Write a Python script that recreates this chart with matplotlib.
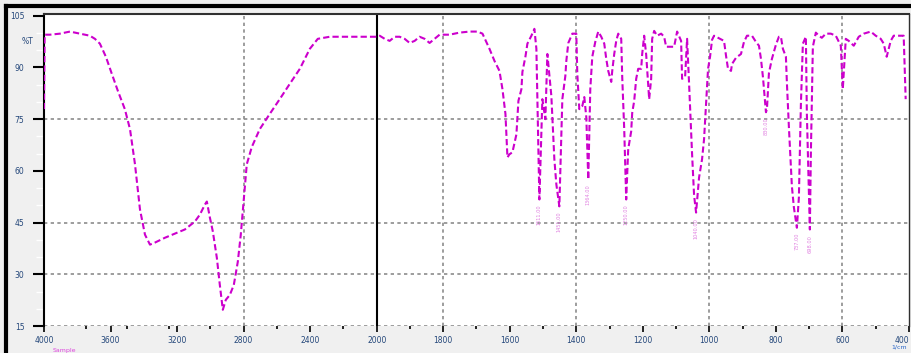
import numpy as np
import matplotlib.pyplot as plt
from matplotlib.ticker import FixedLocator, MultipleLocator

# IR spectrum (wavenumber in 1/cm, transmittance in %T)
wavenumber = [4000, 3996, 3964, 3904, 3844, 3784, 3724, 3694, 3664, 3628, 3592, 3556,
              3514, 3483, 3453, 3423, 3393, 3363, 3333, 3273, 3213, 3153, 3093, 3063,
              3033, 3021, 3003, 2985, 2961, 2943, 2925, 2907, 2883, 2859, 2835, 2817,
              2799, 2781, 2751, 2703, 2643, 2583, 2523, 2462, 2402, 2354, 2282, 2162,
              2000, 1991, 1976, 1961, 1946, 1931, 1916, 1901, 1886, 1871, 1856, 1841,
              1826, 1811, 1781, 1751, 1721, 1697, 1682, 1661, 1646, 1631, 1622, 1613,
              1607, 1601, 1592, 1580, 1574, 1565, 1562, 1553, 1547, 1535, 1526, 1520,
              1511, 1502, 1493, 1487, 1475, 1466, 1460, 1451, 1442, 1433, 1430, 1424,
              1412, 1400, 1397, 1391, 1382, 1376, 1370, 1364, 1358, 1352, 1343, 1334,
              1325, 1316, 1310, 1304, 1295, 1292, 1286, 1280, 1274, 1265, 1262, 1256,
              1250, 1244, 1235, 1232, 1226, 1220, 1214, 1205, 1202, 1196, 1190, 1181,
              1175, 1172, 1166, 1157, 1145, 1136, 1130, 1115, 1106, 1097, 1085, 1082,
              1073, 1067, 1061, 1052, 1046, 1040, 1031, 1022, 1016, 1010, 1004, 998,
              992, 986, 956, 950, 944, 935, 932, 920, 905, 896, 887, 872, 860, 851,
              845, 839, 830, 827, 821, 812, 800, 791, 785, 779, 770, 767, 761, 752,
              746, 737, 731, 725, 719, 710, 707, 698, 695, 689, 680, 671, 662, 650,
              635, 620, 605, 599, 590, 581, 566, 551, 536, 515, 500, 485, 476, 467,
              455, 446, 425, 416, 410]
transmittance = [77.9, 99.5, 99.5, 99.8, 100.4, 99.8, 99.2, 98.3, 96.9, 93.1, 88.1, 83.2,
                 77.9, 72.1, 61.9, 48.8, 41.5, 38.6, 39.2, 40.6, 41.8, 43.0, 45.3, 47.3,
                 50.2, 51.1, 46.5, 42.4, 34.8, 26.9, 19.7, 22.6, 24.0, 26.9, 33.6, 41.5,
                 51.7, 61.9, 66.9, 72.1, 76.5, 80.8, 85.2, 89.6, 95.4, 98.3, 98.9, 98.9,
                 98.9, 99.2, 98.3, 97.7, 98.9, 98.9, 98.3, 97.1, 97.7, 98.9, 98.3, 97.1,
                 98.3, 99.5, 99.5, 100.1, 100.4, 100.4, 99.8, 95.4, 91.9, 89.0, 83.7, 76.5,
                 63.9, 64.8, 65.4, 70.6, 80.3, 83.7, 88.7, 93.1, 96.9, 99.2, 101.2, 95.4,
                 51.7, 80.8, 75.0, 93.9, 81.7, 63.4, 56.1, 49.7, 80.8, 87.5, 91.9, 97.1,
                 99.8, 99.8, 88.1, 77.9, 78.8, 81.4, 75.6, 57.5, 83.7, 93.1, 97.4, 100.4,
                 98.9, 96.9, 92.5, 89.0, 85.8, 89.0, 93.9, 97.7, 99.8, 98.3, 87.2, 72.1,
                 51.7, 66.3, 71.5, 76.8, 80.3, 86.7, 89.6, 89.6, 93.9, 99.2, 93.7, 80.8,
                 86.7, 98.3, 100.6, 99.2, 99.8, 98.9, 96.0, 96.0, 96.0, 100.4, 97.7, 86.7,
                 87.2, 98.3, 85.2, 64.8, 52.9, 47.9, 58.1, 63.4, 69.2, 79.4, 89.6, 93.1,
                 98.0, 99.2, 97.7, 93.4, 89.6, 89.0, 91.0, 92.8, 93.9, 97.4, 99.2, 99.2, 97.4, 96.3,
                 92.5, 87.2, 77.0, 77.9, 88.4, 92.5, 96.6, 98.9, 98.9, 95.4, 93.1, 85.5, 72.7, 55.5,
                 49.4, 43.5, 52.3, 79.1, 96.9, 98.9, 76.5, 43.0, 64.8, 96.0, 100.1, 99.2, 98.6, 99.8,
                 99.8, 99.2, 96.3, 83.7, 98.3, 97.7, 96.3, 98.9, 99.8, 100.4, 99.2, 98.3, 96.9, 93.1,
                 97.7, 99.2, 99.2, 99.2, 80.8]

peak_labels = [1511, 1451, 1364, 1250, 1040, 830, 737, 698]
peak_values = [51.7, 49.7, 57.5, 51.7, 47.9, 77.0, 43.5, 43.0]

x_ticks = [4000, 3600, 3200, 2800, 2400, 2000, 1800, 1600, 1400, 1200, 1000, 800, 600, 400]
y_ticks = [15, 30, 45, 60, 75, 90, 105]
y_grid = [30, 45, 75]
x_grid = [2800, 1800, 1400, 1000, 600]


# scale change at 2000 1/cm: the part below 2000 is stretched twice
def fwd(w):
    w = np.asarray(w, dtype=float)
    return np.where(w <= 2000, w, 2000 + (w - 2000) / 2)


def inv(u):
    u = np.asarray(u, dtype=float)
    return np.where(u <= 2000, u, 2000 + (u - 2000) * 2)


fig = plt.figure(figsize=(9.12, 3.53), dpi=100, facecolor='#f0f0f0')
ax = fig.add_axes([44 / 912, 27 / 353, 865 / 912, 312 / 353])
ax.set_facecolor('white')
ax.set_xscale('function', functions=(fwd, inv))
ax.set_xlim(4000, 400)
ax.set_ylim(15, 105.5)

# grid
for g in y_grid + [15]:
    ax.axhline(g, color='#8c8c8c', lw=1.2, ls=(0, (2, 2)), zorder=1)
for g in x_grid:
    ax.axvline(g, color='#8c8c8c', lw=1.2, ls=(0, (2, 2)), zorder=1)
ax.axvline(2000, color='black', lw=1.5, zorder=2)

ax.plot(wavenumber, transmittance, color='#cc00cc', lw=1.5, ls=(0, (3, 1.5)), zorder=3)

for w, v in zip(peak_labels, peak_values):
    ax.text(w, v - 1.5, f"{w:.2f}", rotation=90, va='top', ha='center',
            fontsize=3.6, color='#e080e0', zorder=3)

# spines
ax.spines['bottom'].set_visible(False)
ax.spines['left'].set_color('black')
ax.spines['left'].set_linewidth(1.5)
ax.spines['top'].set_color('#303030')
ax.spines['top'].set_linewidth(1.5)
ax.spines['right'].set_color('#303030')
ax.spines['right'].set_linewidth(1.0)

ax.xaxis.set_major_locator(FixedLocator(x_ticks))
ax.set_xticklabels([str(t) for t in x_ticks])
ax.xaxis.set_minor_locator(FixedLocator([3750, 3500, 3250, 3000, 2600, 2200, 1900, 1700,
                                         1500, 1300, 1100, 900, 700, 500]))
ax.tick_params(axis='x', which='major', direction='out', length=4, width=1.2,
               color='black', labelsize=5.5, labelcolor='#24477a', pad=3)
ax.tick_params(axis='x', which='minor', direction='out', length=2, width=1.2, color='black')
ax.get_xticklabels()[-1].set_horizontalalignment('right')

ax.yaxis.set_major_locator(FixedLocator(y_ticks))
ax.set_yticklabels([str(t) for t in y_ticks])
ax.yaxis.set_minor_locator(MultipleLocator(5))
ax.tick_params(axis='y', which='major', direction='out', length=8, width=1.5,
               color='black', labelsize=5.5, labelcolor='#24477a', pad=6)
ax.tick_params(axis='y', which='minor', direction='out', length=6, width=1.0, color='white')
for t, v in zip(ax.yaxis.get_major_ticks(), y_ticks):
    if v not in y_grid + [15]:
        t.tick1line.set_color('white')

ax.text(-0.012, (97.4 - 15) / 90.5, "%T", transform=ax.transAxes, ha='right', va='center',
        fontsize=5.5, color='#24477a')
ax.text(0.998, -0.06, "1/cm", transform=ax.transAxes, ha='right', va='top',
        fontsize=4.5, color='#2a66c8')
ax.text(0.01, -0.07, "Sample", transform=ax.transAxes, ha='left', va='top',
        fontsize=4.5, color='#dd44dd')

# outer frame of the window
fig.add_artist(plt.Line2D([6 / 912, 6 / 912], [0, 347 / 353], transform=fig.transFigure,
                          color='black', lw=3))
fig.add_artist(plt.Line2D([6 / 912, 1], [347 / 353, 347 / 353], transform=fig.transFigure,
                          color='black', lw=3))

fig.savefig('out.png', dpi=100, facecolor=fig.get_facecolor())
